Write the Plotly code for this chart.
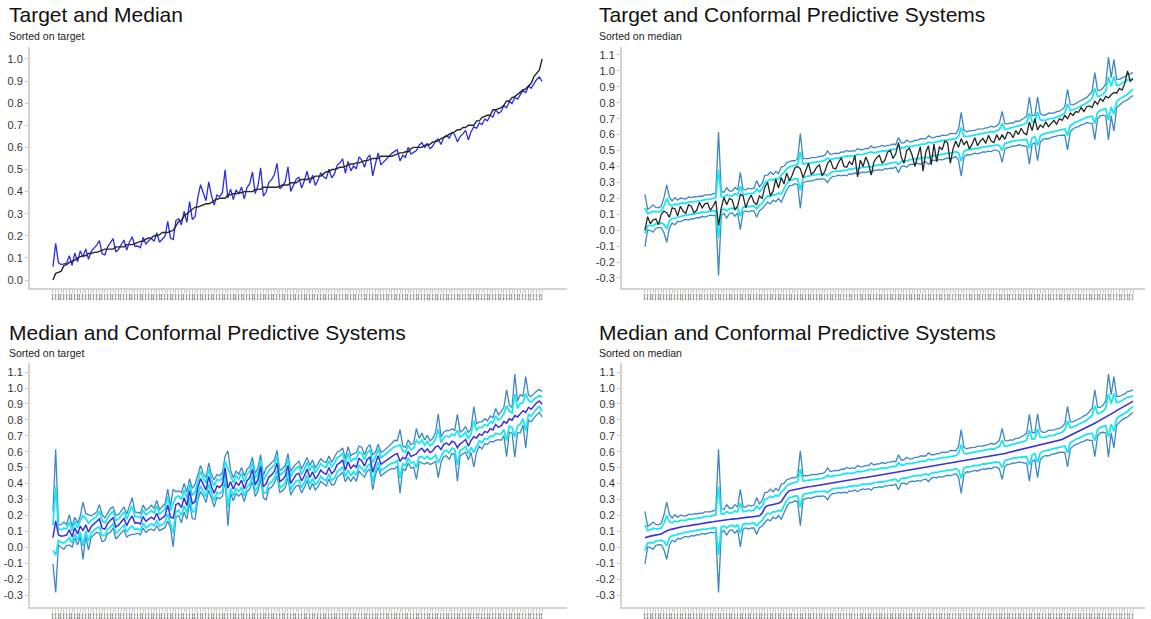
import numpy as np
import plotly.graph_objects as go

# ---------------- data (instances ordered by predicted median) ----------------
median = [
    0.060, 0.066, 0.070, 0.073, 0.077, 0.079, 0.083, 0.094, 0.104, 0.110,
    0.114, 0.119, 0.122, 0.127, 0.130, 0.132, 0.136, 0.139, 0.141, 0.144,
    0.146, 0.150, 0.152, 0.154, 0.158, 0.160, 0.163, 0.166, 0.168, 0.171,
    0.172, 0.175, 0.177, 0.178, 0.181, 0.183, 0.184, 0.187, 0.189, 0.190,
    0.193, 0.196, 0.198, 0.214, 0.249, 0.261, 0.265, 0.269, 0.274, 0.277,
    0.286, 0.311, 0.339, 0.355, 0.359, 0.364, 0.367, 0.371, 0.373, 0.377,
    0.380, 0.382, 0.385, 0.389, 0.391, 0.393, 0.395, 0.398, 0.401, 0.408,
    0.411, 0.413, 0.416, 0.418, 0.421, 0.424, 0.425, 0.428, 0.431, 0.433,
    0.436, 0.438, 0.441, 0.444, 0.446, 0.449, 0.452, 0.454, 0.456, 0.459,
    0.462, 0.465, 0.467, 0.471, 0.474, 0.476, 0.480, 0.483, 0.485, 0.489,
    0.492, 0.494, 0.498, 0.501, 0.503, 0.507, 0.510, 0.512, 0.516, 0.519,
    0.521, 0.525, 0.528, 0.530, 0.534, 0.537, 0.539, 0.543, 0.546, 0.548,
    0.552, 0.555, 0.557, 0.561, 0.564, 0.566, 0.570, 0.573, 0.575, 0.579,
    0.582, 0.586, 0.589, 0.594, 0.598, 0.601, 0.606, 0.610, 0.613, 0.618,
    0.622, 0.625, 0.630, 0.634, 0.637, 0.642, 0.646, 0.649, 0.654, 0.658,
    0.661, 0.666, 0.671, 0.677, 0.686, 0.694, 0.703, 0.711, 0.720, 0.728,
    0.737, 0.745, 0.754, 0.762, 0.771, 0.779, 0.789, 0.798, 0.807, 0.818,
    0.827, 0.838, 0.847, 0.858, 0.867, 0.878, 0.887, 0.898, 0.907, 0.918,
]

target = [
    0.000, 0.085, 0.040, 0.065, 0.070, 0.035, 0.100, 0.120, 0.110, 0.080,
    0.140, 0.135, 0.090, 0.150, 0.120, 0.105, 0.160, 0.150, 0.110, 0.125,
    0.175, 0.140, 0.165, 0.170, 0.125, 0.150, 0.185, 0.030, 0.140, 0.205,
    0.160, 0.200, 0.190, 0.130, 0.150, 0.225, 0.215, 0.140, 0.190, 0.220,
    0.175, 0.160, 0.215, 0.200, 0.270, 0.300, 0.215, 0.245, 0.320, 0.265,
    0.330, 0.290, 0.360, 0.310, 0.345, 0.390, 0.400, 0.385, 0.330, 0.370,
    0.420, 0.350, 0.365, 0.395, 0.410, 0.340, 0.370, 0.420, 0.440, 0.390,
    0.385, 0.425, 0.455, 0.400, 0.395, 0.430, 0.410, 0.470, 0.335, 0.440,
    0.400, 0.460, 0.420, 0.345, 0.430, 0.455, 0.470, 0.420, 0.440, 0.490,
    0.500, 0.450, 0.480, 0.550, 0.460, 0.420, 0.500, 0.515, 0.470, 0.400,
    0.455, 0.525, 0.370, 0.490, 0.530, 0.410, 0.540, 0.430, 0.525, 0.505,
    0.560, 0.550, 0.420, 0.510, 0.560, 0.520, 0.575, 0.535, 0.560, 0.510,
    0.540, 0.580, 0.530, 0.560, 0.575, 0.545, 0.595, 0.560, 0.550, 0.600,
    0.565, 0.600, 0.570, 0.615, 0.610, 0.580, 0.625, 0.600, 0.640, 0.610,
    0.600, 0.680, 0.625, 0.700, 0.630, 0.660, 0.645, 0.680, 0.650, 0.670,
    0.690, 0.665, 0.700, 0.690, 0.720, 0.700, 0.735, 0.720, 0.745, 0.740,
    0.770, 0.745, 0.775, 0.780, 0.770, 0.810, 0.790, 0.825, 0.810, 0.840,
    0.830, 0.850, 0.865, 0.860, 0.890, 0.880, 0.920, 1.000, 0.935, 0.950,
]

# half-widths of the outer (wide) and inner (narrow) conformal intervals
outer_halfwidth = [
    0.165, 0.065, 0.072, 0.085, 0.066, 0.062, 0.068, 0.110, 0.180, 0.095,
    0.070, 0.085, 0.066, 0.075, 0.068, 0.064, 0.072, 0.066, 0.070, 0.065,
    0.068, 0.063, 0.070, 0.066, 0.064, 0.068, 0.070, 0.450, 0.075, 0.066,
    0.095, 0.070, 0.068, 0.090, 0.072, 0.180, 0.070, 0.066, 0.075, 0.068,
    0.072, 0.115, 0.075, 0.080, 0.095, 0.085, 0.100, 0.080, 0.095, 0.078,
    0.110, 0.090, 0.085, 0.075, 0.078, 0.072, 0.080, 0.235, 0.076, 0.072,
    0.070, 0.074, 0.072, 0.068, 0.072, 0.070, 0.076, 0.100, 0.074, 0.070,
    0.072, 0.068, 0.075, 0.072, 0.080, 0.070, 0.074, 0.068, 0.082, 0.072,
    0.070, 0.076, 0.072, 0.085, 0.070, 0.074, 0.072, 0.078, 0.070, 0.074,
    0.072, 0.076, 0.070, 0.110, 0.074, 0.072, 0.085, 0.072, 0.070, 0.076,
    0.072, 0.080, 0.074, 0.072, 0.090, 0.074, 0.070, 0.076, 0.072, 0.078,
    0.074, 0.072, 0.080, 0.076, 0.072, 0.095, 0.200, 0.085, 0.072, 0.076,
    0.074, 0.072, 0.078, 0.074, 0.072, 0.076, 0.074, 0.080, 0.072, 0.076,
    0.090, 0.160, 0.080, 0.074, 0.076, 0.072, 0.078, 0.074, 0.080, 0.085,
    0.095, 0.210, 0.090, 0.085, 0.200, 0.090, 0.076, 0.074, 0.080, 0.076,
    0.074, 0.078, 0.076, 0.080, 0.090, 0.190, 0.085, 0.076, 0.074, 0.078,
    0.076, 0.080, 0.078, 0.090, 0.100, 0.210, 0.090, 0.080, 0.085, 0.100,
    0.260, 0.120, 0.225, 0.090, 0.080, 0.078, 0.076, 0.080, 0.074, 0.072,
]

inner_halfwidth = [
    0.080, 0.038, 0.040, 0.046, 0.038, 0.036, 0.038, 0.058, 0.095, 0.050,
    0.040, 0.046, 0.038, 0.042, 0.039, 0.037, 0.040, 0.038, 0.040, 0.037,
    0.039, 0.036, 0.040, 0.038, 0.037, 0.039, 0.040, 0.215, 0.042, 0.038,
    0.052, 0.040, 0.039, 0.050, 0.041, 0.095, 0.040, 0.038, 0.042, 0.039,
    0.041, 0.062, 0.042, 0.045, 0.052, 0.047, 0.055, 0.045, 0.052, 0.044,
    0.060, 0.050, 0.047, 0.042, 0.044, 0.041, 0.045, 0.120, 0.043, 0.041,
    0.040, 0.042, 0.041, 0.039, 0.041, 0.040, 0.043, 0.055, 0.042, 0.040,
    0.041, 0.039, 0.042, 0.041, 0.045, 0.040, 0.042, 0.039, 0.046, 0.041,
    0.040, 0.043, 0.041, 0.047, 0.040, 0.042, 0.041, 0.044, 0.040, 0.042,
    0.041, 0.043, 0.040, 0.060, 0.042, 0.041, 0.047, 0.041, 0.040, 0.043,
    0.041, 0.045, 0.042, 0.041, 0.050, 0.042, 0.040, 0.043, 0.041, 0.044,
    0.042, 0.041, 0.045, 0.043, 0.041, 0.052, 0.105, 0.047, 0.041, 0.043,
    0.042, 0.041, 0.044, 0.042, 0.041, 0.043, 0.042, 0.045, 0.041, 0.043,
    0.050, 0.085, 0.045, 0.042, 0.043, 0.041, 0.044, 0.042, 0.045, 0.047,
    0.052, 0.110, 0.050, 0.047, 0.105, 0.050, 0.043, 0.042, 0.045, 0.043,
    0.042, 0.044, 0.043, 0.045, 0.050, 0.100, 0.047, 0.043, 0.042, 0.044,
    0.043, 0.045, 0.044, 0.050, 0.055, 0.110, 0.050, 0.045, 0.047, 0.055,
    0.135, 0.065, 0.118, 0.050, 0.045, 0.044, 0.043, 0.045, 0.036, 0.035,
]

instance_ids = [str(10000 + k) for k in range(len(median))]

ytick_vals_top_left = [0.0, 0.1, 0.2, 0.3, 0.4, 0.5, 0.6, 0.7, 0.8, 0.9, 1.0]
ytick_text_top_left = ["0.0", "0.1", "0.2", "0.3", "0.4", "0.5", "0.6", "0.7", "0.8", "0.9", "1.0"]
ytick_vals_cps = [-0.3, -0.2, -0.1, 0.0, 0.1, 0.2, 0.3, 0.4, 0.5, 0.6, 0.7, 0.8, 0.9, 1.0, 1.1]
ytick_text_cps = ["-0.3", "-0.2", "-0.1", "0.0", "0.1", "0.2", "0.3", "0.4", "0.5",
                  "0.6", "0.7", "0.8", "0.9", "1.0", "1.1"]

# ---------------- derived views ----------------
med = np.array(median)
tgt = np.array(target)
wo = np.array(outer_halfwidth)
wi = np.array(inner_halfwidth)
lo_out, hi_out = med - wo, med + wo
lo_in, hi_in = med - wi, med + wi
ids = np.array(instance_ids)
N = len(med)
xs = list(range(N))

ord_med = np.arange(N)
ord_tgt = np.argsort(tgt, kind="stable")

C_TARGET = "#262626"
C_MEDIAN = "#3a2fd9"
C_MEDIAN_TL = "#2b2be0"
C_OUTER = "#3d86c4"
C_INNER = "#1ae6f3"

fig = go.Figure()


def line(y, color, width, xa, ya):
    fig.add_trace(go.Scatter(x=xs, y=list(y), mode="lines",
                             line=dict(color=color, width=width),
                             xaxis=xa, yaxis=ya, showlegend=False,
                             hoverinfo="skip"))


# Panel 1: target & median sorted on target
line(med[ord_tgt], C_MEDIAN_TL, 1.3, "x", "y")
line(tgt[ord_tgt], C_TARGET, 1.4, "x", "y")

# Panel 2: target and CPS sorted on median
for arr, c, w in [(lo_out, C_OUTER, 1.3), (hi_out, C_OUTER, 1.3),
                  (lo_in, C_INNER, 1.8), (hi_in, C_INNER, 1.8)]:
    line(arr[ord_med], c, w, "x2", "y2")
line(tgt[ord_med], C_TARGET, 1.3, "x2", "y2")

# Panel 3: median and CPS sorted on target
for arr, c, w in [(lo_out, C_OUTER, 1.3), (hi_out, C_OUTER, 1.3),
                  (lo_in, C_INNER, 1.8), (hi_in, C_INNER, 1.8)]:
    line(arr[ord_tgt], c, w, "x3", "y3")
line(med[ord_tgt], C_MEDIAN, 1.5, "x3", "y3")

# Panel 4: median and CPS sorted on median
for arr, c, w in [(lo_out, C_OUTER, 1.3), (hi_out, C_OUTER, 1.3),
                  (lo_in, C_INNER, 1.8), (hi_in, C_INNER, 1.8)]:
    line(arr[ord_med], c, w, "x4", "y4")
line(med[ord_med], C_MEDIAN, 1.6, "x4", "y4")

W, H = 1151, 619


def px_x(a, b):
    return [a / W, b / W]


def px_y(top, bottom):
    return [1 - bottom / H, 1 - top / H]


def xaxis(dom, rng, order, anchor):
    return dict(domain=dom, range=rng, anchor=anchor,
                tickmode="array", tickvals=xs, ticktext=list(ids[order]),
                tickangle=90,
                tickfont=dict(size=2.5, color="#000", family="Arial", weight=900),
                ticks="outside", ticklen=3, tickcolor="#c8c8c8", tickwidth=1,
                showline=True, linecolor="#d4d4d4", linewidth=2,
                showgrid=False, zeroline=False, fixedrange=True, automargin=False)


def yaxis(dom, rng, vals, text, anchor):
    return dict(domain=dom, range=rng, anchor=anchor,
                tickmode="array", tickvals=vals, ticktext=text,
                tickfont=dict(size=11, color="#333", family="Arial"),
                ticks="outside", ticklen=3, tickcolor="#c8c8c8", tickwidth=1,
                showline=True, linecolor="#d4d4d4", linewidth=2,
                showgrid=False, zeroline=False, fixedrange=True, automargin=False)


left_x = px_x(30, 567)
right_x = px_x(622, 1145)
top_y = px_y(47, 288)
bot_y = px_y(363, 607)

rng_left = [-8.4, N - 1 + 9.1]
rng_right = [-8.4, N - 1 + 4.4]

fig.update_layout(
    width=W, height=H,
    margin=dict(l=0, r=0, t=0, b=0),
    paper_bgcolor="white", plot_bgcolor="white",
    font=dict(family="Arial, Liberation Sans, sans-serif"),
    xaxis=xaxis(left_x, rng_left, ord_tgt, "y"),
    yaxis=yaxis(top_y, [-0.036, 1.054], ytick_vals_top_left, ytick_text_top_left, "x"),
    xaxis2=xaxis(right_x, rng_right, ord_med, "y2"),
    yaxis2=yaxis(top_y, [-0.363, 1.150], ytick_vals_cps, ytick_text_cps, "x2"),
    xaxis3=xaxis(left_x, rng_left, ord_tgt, "y3"),
    yaxis3=yaxis(bot_y, [-0.375, 1.157], ytick_vals_cps, ytick_text_cps, "x3"),
    xaxis4=xaxis(right_x, rng_right, ord_med, "y4"),
    yaxis4=yaxis(bot_y, [-0.375, 1.157], ytick_vals_cps, ytick_text_cps, "x4"),
)

titles = [
    ("Target and Median", "Sorted on target", 7, 15, 36),
    ("Target and Conformal Predictive Systems", "Sorted on median", 597, 15, 36),
    ("Median and Conformal Predictive Systems", "Sorted on target", 7, 332, 353),
    ("Median and Conformal Predictive Systems", "Sorted on median", 597, 332, 353),
]
for title, sub, x0, ty, sy in titles:
    fig.add_annotation(text=title, x=x0 / W, y=1 - ty / H, xref="paper", yref="paper",
                       xanchor="left", yanchor="middle", showarrow=False,
                       font=dict(size=21, color="#111", family="Arial"))
    fig.add_annotation(text=sub, x=x0 / W, y=1 - sy / H, xref="paper", yref="paper",
                       xanchor="left", yanchor="middle", showarrow=False,
                       font=dict(size=10.5, color="#222", family="Arial"))

fig.write_html("out.html", config={"displayModeBar": False})
